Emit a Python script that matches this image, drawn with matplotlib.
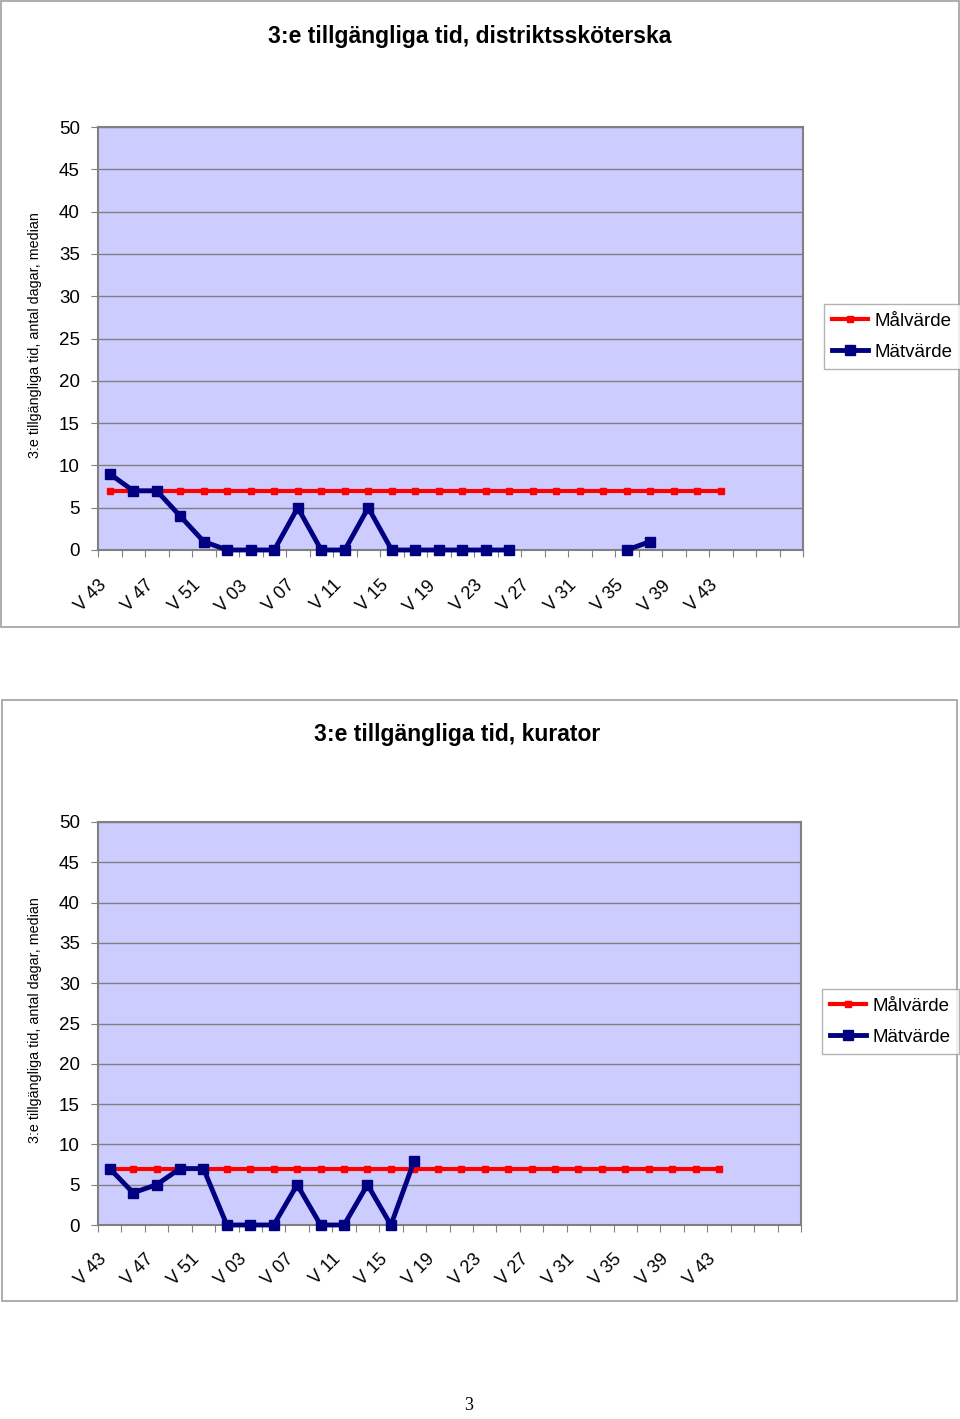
import numpy as np
import matplotlib.pyplot as plt
from matplotlib.patches import Rectangle

plt.rcParams['font.family'] = ['Liberation Sans', 'DejaVu Sans']

# category axis: 30 slots, every other week; only every 2nd slot is labelled
tick_labels = ["V 43", "V 47", "V 51", "V 03", "V 07", "V 11", "V 15",
               "V 19", "V 23", "V 27", "V 31", "V 35", "V 39", "V 43"]
n_slots = 30

nan = np.nan
malvarde = [7, 7, 7, 7, 7, 7, 7, 7, 7, 7, 7, 7, 7, 7,
            7, 7, 7, 7, 7, 7, 7, 7, 7, 7, 7, 7, 7]
matvarde_dsk = [9, 7, 7, 4, 1, 0, 0, 0, 5, 0, 0, 5, 0, 0, 0, 0, 0, 0,
                nan, nan, nan, nan, 0, 1, nan, nan, nan]
matvarde_kur = [7, 4, 5, 7, 7, 0, 0, 0, 5, 0, 0, 5, 0, 8,
                nan, nan, nan, nan, nan, nan, nan, nan, nan, nan, nan, nan, nan]

titles = ["3:e tillgängliga tid, distriktssköterska", "3:e tillgängliga tid, kurator"]
ylabel = "3:e tillgängliga tid, antal dagar, median"

W, H = 960, 1419
fig = plt.figure(figsize=(W / 100, H / 100), dpi=100)


def fx(px):
    return px / W


def fy(py):
    return 1 - py / H


# chart frames (outer boxes)
for (x0, y0, x1, y1) in [(1, 1, 959, 627), (2, 700, 957, 1301)]:
    fig.patches.append(Rectangle((fx(x0), fy(y1)), fx(x1 - x0), (y1 - y0) / H,
                                 transform=fig.transFigure, fill=False,
                                 edgecolor='#a0a0a0', lw=1.2))

panels = [
    dict(area=(98, 127, 803, 550), title_xy=(470, 37), data=matvarde_dsk,
         leg=(824, 304)),
    dict(area=(98, 822, 801, 1225), title_xy=(457, 735), data=matvarde_kur,
         leg=(822, 989)),
]

grey = '#808080'
x = np.arange(len(malvarde)) + 0.5

for p, title in zip(panels, titles):
    l, t, r, b = p['area']
    ax = fig.add_axes([fx(l), fy(b), fx(r - l), (b - t) / H])
    ax.set_facecolor('#ccccff')
    ax.set_xlim(0, n_slots)
    ax.set_ylim(0, 50)

    ax.plot(x, malvarde, color='#ff0000', lw=3, marker='s', ms=4,
            label='Målvärde', zorder=3, clip_on=False)
    ax.plot(x, p['data'], color='#000080', lw=3.5, marker='s', ms=7,
            label='Mätvärde', zorder=4, clip_on=False)

    ax.set_yticks(np.arange(0, 51, 5))
    ax.yaxis.grid(True, color=grey, lw=1)
    ax.set_axisbelow(True)
    ax.tick_params(axis='y', length=5, color=grey, labelsize=13.5, pad=8)

    ax.set_xticks(np.arange(0, n_slots + 1))
    ax.set_xticklabels([])
    ax.tick_params(axis='x', length=5, color=grey)
    for i, lab in enumerate(tick_labels):
        ax.text(2 * i + 0.5, -3.2, lab, rotation=45, ha='right', va='top',
                fontsize=13, transform=ax.transData)

    for s in ax.spines.values():
        s.set_color(grey)
        s.set_linewidth(1.5)

    fig.text(fx(p['title_xy'][0]), fy(p['title_xy'][1]), title, ha='center',
             va='center', fontsize=16.5, fontweight='bold')
    fig.text(fx(35), fy((t + b) / 2 - 3), ylabel, rotation=90,
             ha='center', va='center', fontsize=10.3)

    lx, ly = p['leg']
    fig.legend(*ax.get_legend_handles_labels(), loc='upper left',
               bbox_to_anchor=(fx(lx), fy(ly)), frameon=True, fancybox=False,
               edgecolor='#a0a0a0', fontsize=13.5, handlelength=1.9,
               borderpad=0.45, labelspacing=0.75, handletextpad=0.35,
               borderaxespad=0)

fig.text(fx(469), fy(1406), "3", ha='center', va='center', fontsize=13,
         family=['Liberation Serif', 'DejaVu Serif'])

fig.savefig('out.png', dpi=100, facecolor='white')
